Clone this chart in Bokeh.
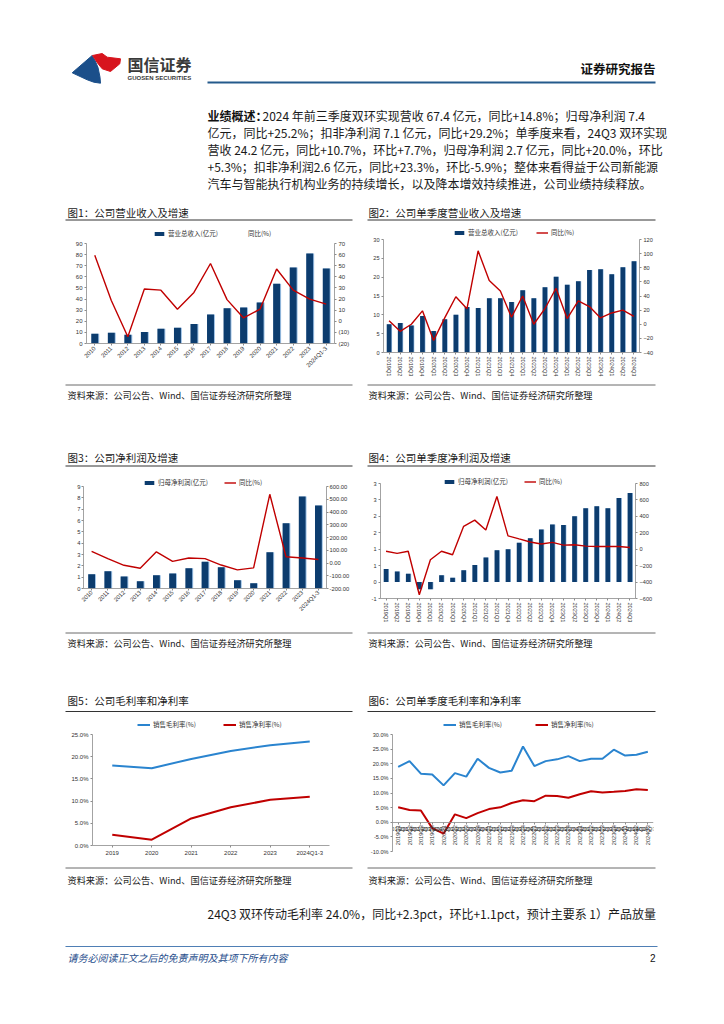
import math
from bokeh.plotting import figure
from bokeh.models import (FactorRange, Range1d, LinearAxis, Legend, LegendItem,
                          FixedTicker, Spacer, ColumnDataSource, PrintfTickFormatter)
from bokeh.layouts import row, column
from bokeh.transform import dodge
from bokeh.core.properties import value
from bokeh.embed import file_html
from bokeh.resources import INLINE

CJK = "Noto Sans CJK SC"
NUM = "Liberation Sans"
NAVY = "#0C3C6E"
SHADOW = "#9EC2E6"
RED = "#C00000"
BLUE = "#2A84CF"
TXT = "#1a1a1a"

# ---------------- data ----------------
annual_periods = ["2010", "2011", "2012", "2013", "2014", "2015", "2016", "2017",
                  "2018", "2019", "2020", "2021", "2022", "2023", "2024Q1-3"]
annual_revenue = [8.8, 9.7, 7.9, 10.3, 13.3, 14.2, 17.5, 26.0, 31.7, 32.3, 36.9, 53.8, 68.3, 81.0, 67.6]
annual_revenue_yoy = [59.5, 18.7, -13.9, 29.0, 28.0, 10.9, 26.0, 52.0, 19.5, 3.0, 11.0, 47.0, 28.0, 20.0, 15.4]
annual_net_profit = [1.26, 1.52, 1.06, 0.65, 1.17, 1.32, 1.79, 2.35, 1.88, 0.73, 0.47, 3.20, 5.75, 8.12, 7.33]
annual_net_profit_yoy = [91, 34, -18, -41, 88, 13, 39, 34, -16, -54, -38, 539, 49, 39, 28]

quarters = ["2019Q1", "2019Q2", "2019Q3", "2019Q4", "2020Q1", "2020Q2", "2020Q3", "2020Q4",
            "2021Q1", "2021Q2", "2021Q3", "2021Q4", "2022Q1", "2022Q2", "2022Q3", "2022Q4",
            "2023Q1", "2023Q2", "2023Q3", "2023Q4", "2024Q1", "2024Q2", "2024Q3"]
q_revenue = [7.5, 7.8, 7.2, 9.7, 5.7, 8.8, 10.0, 12.1, 11.8, 14.4, 14.4, 13.4,
             16.5, 14.4, 17.3, 20.1, 18.0, 18.9, 21.9, 22.1, 20.8, 22.6, 24.2]
q_revenue_yoy = [5, -10, 0, 19, -23, 9, 39, 22, 104, 62, 47, 10,
                 40, 0, 22, 51, 8, 33, 25, 9, 16, 20, 11]
q_net_profit = [0.40, 0.32, 0.25, -0.22, -0.22, 0.21, 0.13, 0.36, 0.52, 0.75, 0.97, 1.00,
                1.20, 1.33, 1.60, 1.75, 1.74, 2.00, 2.25, 2.31, 2.25, 2.56, 2.71]
q_net_profit_yoy = [-25, -50, -25, -554, -129, -25, -67, 279, 354, 233, 642, 163,
                    125, 88, 63, 83, 50, 54, 38, 33, 33, 33, 21]

margin_years = ["2019", "2020", "2021", "2022", "2023", "2024Q1-3"]
gross_margin = [18.0, 17.4, 19.5, 21.3, 22.6, 23.4]
net_margin = [2.4, 1.3, 6.1, 8.6, 10.3, 11.0]

q_gross_margin = [18.9, 20.9, 16.6, 16.3, 12.6, 16.8, 15.6, 21.7, 18.6, 17.0, 17.6, 25.9,
                  19.2, 20.9, 21.5, 22.6, 20.9, 21.7, 21.7, 24.8, 22.8, 23.1, 24.1]
q_net_margin = [5.1, 4.2, 4.0, -2.0, -3.9, 2.7, 1.4, 3.1, 4.5, 5.1, 6.6, 7.5,
                7.2, 9.1, 9.0, 8.4, 9.6, 10.6, 10.2, 10.4, 10.7, 11.3, 11.0]

# tick values and labels
rev_ticks = [0, 10, 20, 30, 40, 50, 60, 70, 80, 90]
rev_yoy_ticks = [-20, -10, 0, 10, 20, 30, 40, 50, 60, 70]
rev_yoy_tick_labels = ["(20)", "(10)", "0", "10", "20", "30", "40", "50", "60", "70"]
qrev_ticks = [0, 5, 10, 15, 20, 25, 30]
qrev_yoy_ticks = [-40, -20, 0, 20, 40, 60, 80, 100, 120]
np_ticks = [0, 1, 2, 3, 4, 5, 6, 7, 8, 9]
np_yoy_ticks = [-200, -100, 0, 100, 200, 300, 400, 500, 600]
qnp_ticks = [-0.5, 0.0, 0.5, 1.0, 1.5, 2.0, 2.5, 3.0]
qnp_tick_labels = ["-1", "0", "1", "1", "2", "2", "3", "3"]
qnp_yoy_ticks = [-600, -400, -200, 0, 200, 400, 600, 800]
margin_ticks = [0, 5, 10, 15, 20, 25]
q_margin_ticks = [-10, -5, 0, 5, 10, 15, 20, 25, 30]

# texts
para_lines = [
    "2024 年前三季度双环实现营收 67.4 亿元，同比+14.8%；归母净利润 7.4",
    "亿元，同比+25.2%；扣非净利润 7.1 亿元，同比+29.2%；单季度来看，24Q3 双环实现",
    "营收 24.2 亿元，同比+10.7%，环比+7.7%，归母净利润 2.7 亿元，同比+20.0%，环比",
    "+5.3%；扣非净利润2.6 亿元，同比+23.3%，环比-5.9%；整体来看得益于公司新能源",
    "汽车与智能执行机构业务的持续增长，以及降本增效持续推进，公司业绩持续释放。",
]
SOURCE = "资料来源：公司公告、Wind、国信证券经济研究所整理"


# ---------------- helpers ----------------
class Deco:
    def __init__(self, top, h, w=724):
        self.oy = top
        p = figure(width=w, height=h, x_range=Range1d(0, w), y_range=Range1d(h, 0),
                   output_backend="svg", toolbar_location=None, min_border=0,
                   x_axis_location=None, y_axis_location=None)
        p.grid.visible = False
        p.outline_line_color = None
        self.p = p

    def text(self, x, y, s, size, color=TXT, style="normal", align="left", font=CJK):
        self.p.text(x=[x], y=[y - self.oy], text=[s], text_font=value(font),
                    text_font_size=value(f"{size}px"), text_color=color,
                    text_font_style=style, text_align=align, text_baseline="middle")

    def hline(self, x0, x1, y, color="#333333", width=1.0):
        self.p.segment(x0=[x0], y0=[y - self.oy], x1=[x1], y1=[y - self.oy],
                       line_color=color, line_width=width)

    def patch(self, pts, color):
        self.p.patch(x=[a for a, b in pts], y=[b - self.oy for a, b in pts],
                     fill_color=color, line_color=color)


def head_room(lo, hi, plot_px, extra_px):
    """upper range end so that [lo, hi] keeps its pixel span and extra_px is added on top"""
    return hi + extra_px * (hi - lo) / plot_px


def make_chart(width, height, factors, lo, hi, plot_px, extra_px, borders):
    l, r, t, b = borders
    p = figure(width=width, height=height, x_range=FactorRange(factors=factors),
               y_range=Range1d(lo, head_room(lo, hi, plot_px, extra_px)),
               output_backend="svg", toolbar_location=None, sizing_mode="fixed",
               min_border_left=l, min_border_right=r, min_border_top=t, min_border_bottom=b)
    if "frame_align" in p.properties():
        p.frame_align = False
    p.xgrid.grid_line_color = None
    p.ygrid.grid_line_color = None
    p.outline_line_color = None
    p.yaxis.bounds = (lo, hi)
    return p


def right_axis(p, lo, hi, plot_px, extra_px, ticks, **kw):
    p.extra_y_ranges = {"yoy": Range1d(lo, head_room(lo, hi, plot_px, extra_px))}
    ax = LinearAxis(y_range_name="yoy", ticker=FixedTicker(ticks=ticks), bounds=(lo, hi), **kw)
    p.add_layout(ax, "right")
    return ax


def style_axis(ax, size="6px", standoff=2):
    ax.major_label_text_font = NUM
    ax.major_label_text_font_size = size
    ax.major_label_text_color = "#333333"
    ax.axis_line_color = "#8c8c8c"
    ax.axis_line_width = 0.8
    ax.major_tick_line_color = "#8c8c8c"
    ax.major_tick_out = 2
    ax.major_tick_in = 0
    ax.minor_tick_line_color = None
    ax.major_label_standoff = standoff


def add_legend(p, items, loc, spacing, glyph_w=12):
    leg = Legend(items=[LegendItem(label=value(lbl), renderers=[r]) for lbl, r in items],
                 orientation="horizontal", location=loc,
                 label_text_font=CJK, label_text_font_size="6.5px", label_text_color="#333333",
                 glyph_width=glyph_w, glyph_height=5, label_height=8, label_standoff=3,
                 spacing=spacing, padding=2, margin=0,
                 border_line_color=None, background_fill_alpha=0)
    p.add_layout(leg)


def bars(p, src, xcol, ycol):
    p.vbar(x=dodge(xcol, 0.04, range=p.x_range), top=ycol, width=0.46, source=src,
           fill_color=SHADOW, line_color=None)
    return p.vbar(x=xcol, top=ycol, width=0.42, source=src, fill_color=NAVY, line_color=None)


# ---------------- chart 1 ----------------
p1 = make_chart(287, 160, annual_periods, 0, 90, 100, 18, (21, 17, 4, 38))
s1 = ColumnDataSource(dict(period=annual_periods, revenue=annual_revenue, yoy=annual_revenue_yoy))
b1 = bars(p1, s1, "period", "revenue")
right_axis(p1, -20, 70, 100, 18, rev_yoy_ticks,
           major_label_overrides=dict(zip(rev_yoy_ticks, rev_yoy_tick_labels)))
p1.line(x="period", y="yoy", source=s1, y_range_name="yoy", line_color=RED, line_width=1.4)
leg1 = p1.line(x=[], y=[], y_range_name="yoy", line_color="#F2A3A3", line_width=1.6)
p1.yaxis[0].ticker = FixedTicker(ticks=rev_ticks)
p1.xaxis.major_label_orientation = math.pi / 4
for ax in p1.xaxis + p1.yaxis:
    style_axis(ax)
add_legend(p1, [("营业总收入(亿元)", b1), ("同比(%)", leg1)], (67, 105), 15)

# ---------------- chart 2 ----------------
p2 = make_chart(288, 160, quarters, 0, 30, 113, 15, (16, 14, 3, 29))
s2 = ColumnDataSource(dict(q=quarters, revenue=q_revenue, yoy=q_revenue_yoy))
b2 = bars(p2, s2, "q", "revenue")
right_axis(p2, -40, 120, 113, 15, qrev_yoy_ticks)
l2 = p2.line(x="q", y="yoy", source=s2, y_range_name="yoy", line_color=RED, line_width=1.4)
p2.yaxis[0].ticker = FixedTicker(ticks=qrev_ticks)
p2.xaxis.major_label_orientation = "vertical"
for ax in p2.xaxis + p2.yaxis:
    style_axis(ax, "5.6px")
add_legend(p2, [("营业总收入(亿元)", b2), ("同比(%)", l2)], (70, 115), 18)

# ---------------- chart 3 ----------------
p3 = make_chart(287, 162, annual_periods, 0, 9, 102, 12, (18, 23, 6, 42))
s3 = ColumnDataSource(dict(period=annual_periods, np=annual_net_profit, yoy=annual_net_profit_yoy))
b3 = bars(p3, s3, "period", "np")
right_axis(p3, -200, 600, 102, 12, np_yoy_ticks, formatter=PrintfTickFormatter(format="%.2f"))
l3 = p3.line(x="period", y="yoy", source=s3, y_range_name="yoy", line_color=RED, line_width=1.4)
p3.yaxis[0].ticker = FixedTicker(ticks=np_ticks)
p3.xaxis.major_label_orientation = math.pi / 4
for ax in p3.xaxis + p3.yaxis:
    style_axis(ax, "5.8px", 1)
add_legend(p3, [("归母净利润(亿元)", b3), ("同比(%)", l3)], (60, 101), 16)

# ---------------- chart 4 ----------------
p4 = make_chart(288, 162, quarters, -0.5, 3.0, 115, 10, (13, 17, 5, 32))
s4 = ColumnDataSource(dict(q=quarters, np=q_net_profit, yoy=q_net_profit_yoy))
b4 = bars(p4, s4, "q", "np")
right_axis(p4, -600, 800, 115, 10, qnp_yoy_ticks)
l4 = p4.line(x="q", y="yoy", source=s4, y_range_name="yoy", line_color=RED, line_width=1.4)
p4.yaxis[0].ticker = FixedTicker(ticks=qnp_ticks)
p4.yaxis[0].major_label_overrides = dict(zip(qnp_ticks, qnp_tick_labels))
p4.xaxis.major_label_orientation = "vertical"
for ax in p4.xaxis + p4.yaxis:
    style_axis(ax, "5.6px")
add_legend(p4, [("归母净利润(亿元)", b4), ("同比(%)", l4)], (63, 112), 16)

# ---------------- chart 5 ----------------
p5 = make_chart(287, 150, margin_years, 0, 25, 111, 18, (27, 23, 1, 20))
s5 = ColumnDataSource(dict(y=margin_years, gm=gross_margin, nm=net_margin))
g5 = p5.line(x="y", y="gm", source=s5, line_color=BLUE, line_width=2)
n5 = p5.line(x="y", y="nm", source=s5, line_color=RED, line_width=2)
p5.yaxis.ticker = FixedTicker(ticks=margin_ticks)
p5.yaxis.formatter = PrintfTickFormatter(format="%.1f%%")
for ax in p5.xaxis + p5.yaxis:
    style_axis(ax, "6px")
add_legend(p5, [("销售毛利率(%)", g5), ("销售净利率(%)", n5)], (45, 116), 27, 13)

# ---------------- chart 6 ----------------
p6 = make_chart(288, 150, quarters, -10, 30, 117, 18, (25, 2, 1, 14))
s6 = ColumnDataSource(dict(q=quarters, gm=q_gross_margin, nm=q_net_margin))
g6 = p6.line(x="q", y="gm", source=s6, line_color=BLUE, line_width=2)
n6 = p6.line(x="q", y="nm", source=s6, line_color=RED, line_width=2)
p6.yaxis.ticker = FixedTicker(ticks=q_margin_ticks)
p6.yaxis.formatter = PrintfTickFormatter(format="%.1f%%")
p6.xaxis.fixed_location = 0
p6.xaxis.major_label_overrides = {q: "" for q in quarters}
for ax in p6.xaxis + p6.yaxis:
    style_axis(ax, "5.6px")
# category labels hang just under the 0% axis line
p6.text(x="q", y=0, text="q", source=s6, angle=math.pi / 2, text_align="right",
        text_baseline="middle", y_offset=3, text_font=value(NUM),
        text_font_size=value("5.6px"), text_color="#333333")
add_legend(p6, [("销售毛利率(%)", g6), ("销售净利率(%)", n6)], (51, 122), 33, 13)

# ---------------- page decoration ----------------
A = Deco(0, 221)
A.patch([(71.7, 72.3), (91.7, 55), (94.5, 60), (97.5, 67), (99.5, 76.7), (100, 82.7), (93.3, 81.7), (86.7, 79.3)], "#1B4F8A")
A.patch([(92, 55), (101.7, 53), (106.7, 56.7), (120, 58.3), (119.3, 63.3), (110, 71), (101.7, 68.3), (97, 62.5), (94, 58)], "#D7141D")
A.text(127, 63.5, "国信证券", 16, "#3a3a3a", "bold")
A.text(127, 77.5, "GUOSEN SECURITIES", 6, "#3a3a3a", "bold", font=NUM)
A.text(655, 68, "证券研究报告", 12.5, "#111111", "bold", "right")
A.hline(207, 655, 82, "#245A8C", 2.2)
A.text(207, 115, "业绩概述：", 12, "#111111", "bold")
A.text(262, 115, para_lines[0], 12)
for i, ln in enumerate(para_lines[1:], start=1):
    A.text(207, 115 + 17.1 * i, ln, 12)
A.text(67, 212, "图1：公司营业收入及增速", 10.5)
A.text(368, 212, "图2：公司单季度营业收入及增速", 10.5)
A.hline(65, 352, 219.5)
A.hline(367, 655, 219.5)

C = Deco(381, 87)
C.hline(65, 352, 384.5, "#444444", 0.8)
C.hline(367, 655, 384.5, "#444444", 0.8)
C.text(67, 394, SOURCE, 9.2)
C.text(368, 394, SOURCE, 9.2)
C.text(67, 457, "图3：公司净利润及增速", 10.5)
C.text(368, 457, "图4：公司单季度净利润及增速", 10.5)
C.hline(65, 352, 465.5)
C.hline(367, 655, 465.5)

E = Deco(630, 85)
E.hline(65, 352, 632.5, "#444444", 0.8)
E.hline(367, 655, 632.5, "#444444", 0.8)
E.text(67, 642, SOURCE, 9.2)
E.text(368, 642, SOURCE, 9.2)
E.text(67, 700, "图5：公司毛利率和净利率", 10.5)
E.text(368, 700, "图6：公司单季度毛利率和净利率", 10.5)
E.hline(65, 352, 711)
E.hline(367, 655, 711)

G = Deco(865, 151)
G.hline(65, 352, 867.5, "#444444", 0.8)
G.hline(367, 655, 867.5, "#444444", 0.8)
G.text(67, 879, SOURCE, 9.2)
G.text(368, 879, SOURCE, 9.2)
G.text(207, 913, "24Q3 双环传动毛利率 24.0%，同比+2.3pct，环比+1.1pct，预计主要系 1）产品放量", 12)
G.hline(65, 657, 946, "#4F7FB5", 1)
G.text(67, 957, "请务必阅读正文之后的免责声明及其项下所有内容", 10, "#1F4E8C", "italic")
G.text(655, 957, "2", 10, "#111111", "normal", "right", NUM)

rowB = row(Spacer(width=65, height=160), p1, Spacer(width=15, height=160), p2)
rowD = row(Spacer(width=65, height=162), p3, Spacer(width=15, height=162), p4)
rowF = row(Spacer(width=65, height=150), p5, Spacer(width=15, height=150), p6)
page = column(A.p, rowB, C.p, rowD, E.p, rowF, G.p)

open("out.html", "w").write(file_html(page, INLINE))
